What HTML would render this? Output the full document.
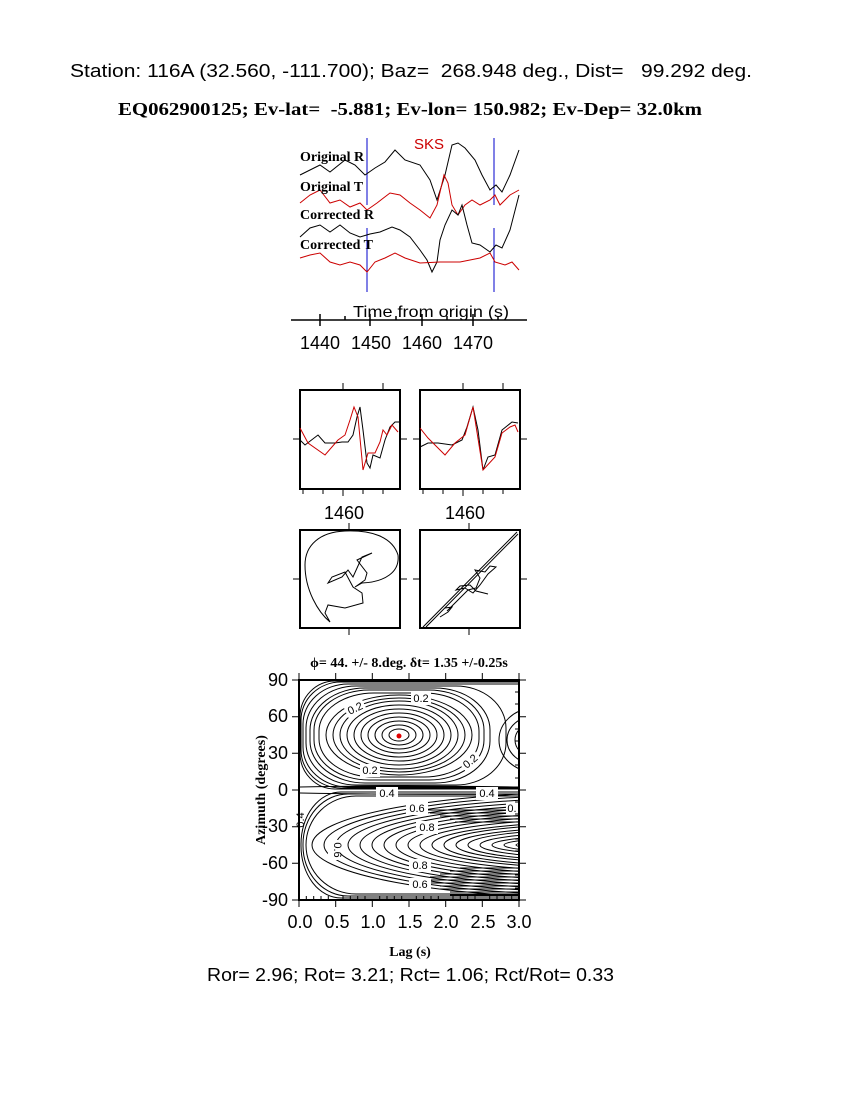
<!DOCTYPE html>
<html><head><meta charset="utf-8"><style>body{margin:0;background:#fff}svg{display:block}text{white-space:pre}</style></head>
<body>
<svg width="850" height="1100" viewBox="0 0 850 1100" xmlns="http://www.w3.org/2000/svg" xml:space="preserve">
<defs>
<clipPath id="cu"><rect x="299" y="680" width="220" height="110"/></clipPath>
<clipPath id="cl"><rect x="299" y="790" width="220" height="110"/></clipPath>
<clipPath id="cb"><rect x="299" y="680" width="220" height="220"/></clipPath>
</defs>
<g font-family="Liberation Sans, sans-serif" fill="#000">
<text x="70" y="77" font-size="18" textLength="682" lengthAdjust="spacingAndGlyphs">Station: 116A (32.560, -111.700); Baz=  268.948 deg., Dist=   99.292 deg.</text>
<text x="118" y="115" font-size="18" font-weight="bold" font-family="Liberation Serif, serif" textLength="584" lengthAdjust="spacingAndGlyphs">EQ062900125; Ev-lat=  -5.881; Ev-lon= 150.982; Ev-Dep= 32.0km</text>
</g>
<g fill="none" stroke-width="1">
<line x1="367" y1="138" x2="367" y2="205" stroke="#0000cc"/>
<line x1="494" y1="138" x2="494" y2="205" stroke="#0000cc"/>
<line x1="367" y1="228" x2="367" y2="292" stroke="#0000cc"/>
<line x1="494" y1="228" x2="494" y2="292" stroke="#0000cc"/>
<polyline stroke="#000" points="300,175 310,170 320,165 330,172 345,160 355,165 365,175 375,168 385,162 395,150 405,160 420,165 430,180 437,200 445,175 452,145 458,143 465,148 475,160 482,175 490,190 496,185 502,192 510,175 519,150"/>
<polyline stroke="#cc0000" points="300,203 310,195 320,190 330,203 340,200 350,207 360,203 367,210 377,203 390,193 400,195 410,203 420,210 430,218 437,205 444,175 448,183 452,205 458,215 465,205 472,200 480,205 490,200 495,195 500,205 510,195 519,190"/>
<polyline stroke="#000" points="300,237 310,228 320,225 330,232 340,225 350,233 360,237 370,234 380,232 392,227 400,230 410,237 420,250 427,260 432,272 437,262 440,240 445,225 452,210 458,215 462,205 467,225 472,243 480,245 490,252 496,245 502,248 510,230 519,195"/>
<polyline stroke="#cc0000" points="300,258 310,255 320,253 330,262 340,265 350,262 360,265 367,272 375,262 385,258 395,253 405,258 420,263 440,262 460,262 480,258 490,253 495,262 505,265 512,262 519,270"/>
</g>
<g font-family="Liberation Serif, serif" font-weight="bold" font-size="14">
<text x="300" y="161">Original R</text>
<text x="300" y="191">Original T</text>
<text x="300" y="219">Corrected R</text>
<text x="300" y="249">Corrected T</text>
</g>
<text x="414" y="149" font-family="Liberation Sans, sans-serif" font-size="15" fill="#cc0000">SKS</text>
<text x="353" y="317" font-family="Liberation Sans, sans-serif" font-size="16" textLength="156" lengthAdjust="spacingAndGlyphs">Time from origin (s)</text>
<g stroke="#000" stroke-width="1.5">
<line x1="291" y1="320" x2="527" y2="320"/>
<line x1="320" y1="314" x2="320" y2="326"/><line x1="370" y1="314" x2="370" y2="326"/><line x1="422" y1="314" x2="422" y2="326"/><line x1="473" y1="314" x2="473" y2="326"/>
<line x1="345" y1="316" x2="345" y2="320"/><line x1="396" y1="316" x2="396" y2="320"/><line x1="447" y1="316" x2="447" y2="320"/><line x1="498" y1="316" x2="498" y2="320"/>
</g>
<g font-family="Liberation Sans, sans-serif" font-size="18" text-anchor="middle">
<text x="320" y="349">1440</text><text x="371" y="349">1450</text><text x="422" y="349">1460</text><text x="473" y="349">1470</text>
<text x="344" y="519">1460</text><text x="465" y="519">1460</text>
</g>
<g fill="none" stroke="#000" stroke-width="2">
<rect x="300" y="390" width="100" height="99"/>
<rect x="420" y="390" width="100" height="99"/>
<rect x="300" y="530" width="100" height="98"/>
<rect x="420" y="530" width="100" height="98"/>
</g>
<g stroke="#000" stroke-width="1">
<line x1="343" y1="383" x2="343" y2="390"/><line x1="383" y1="383" x2="383" y2="390"/>
<line x1="463" y1="383" x2="463" y2="390"/><line x1="503" y1="383" x2="503" y2="390"/>
<line x1="303" y1="489" x2="303" y2="494"/><line x1="323" y1="489" x2="323" y2="494"/><line x1="343" y1="489" x2="343" y2="496"/><line x1="363" y1="489" x2="363" y2="494"/><line x1="383" y1="489" x2="383" y2="494"/>
<line x1="423" y1="489" x2="423" y2="494"/><line x1="443" y1="489" x2="443" y2="494"/><line x1="463" y1="489" x2="463" y2="496"/><line x1="483" y1="489" x2="483" y2="494"/><line x1="503" y1="489" x2="503" y2="494"/>
<line x1="293" y1="439" x2="300" y2="439"/><line x1="400" y1="439" x2="407" y2="439"/>
<line x1="413" y1="439" x2="420" y2="439"/><line x1="520" y1="439" x2="527" y2="439"/>
<line x1="349" y1="523" x2="349" y2="530"/><line x1="469" y1="523" x2="469" y2="530"/>
<line x1="349" y1="628" x2="349" y2="635"/><line x1="469" y1="628" x2="469" y2="635"/>
<line x1="293" y1="579" x2="300" y2="579"/><line x1="400" y1="579" x2="407" y2="579"/>
<line x1="413" y1="579" x2="420" y2="579"/><line x1="520" y1="579" x2="527" y2="579"/>
</g>
<g fill="none" stroke-width="1">
<polyline stroke="#000" points="300,440 305,445 318,435 325,443 335,443 342,442 348,442 353,435 357,417 360,407 363,430 367,463 370,468 373,455 380,458 385,440 390,427 395,422 400,422"/>
<polyline stroke="#cc0000" points="300,428 308,443 325,455 338,440 345,435 350,420 354,407 358,417 363,470 368,453 375,453 380,442 383,430 387,435 392,425 398,432"/>
<polyline stroke="#000" points="420,447 428,443 438,443 452,445 462,440 467,427 473,407 478,430 483,470 488,457 495,455 502,430 512,422 518,423"/>
<polyline stroke="#cc0000" points="420,428 428,438 445,455 455,443 465,435 473,407 483,470 495,457 502,433 510,427 515,425 518,432"/>
<path stroke="#000" d="M330,622 C318,612 305,590 305,565 C305,545 320,532 345,531 C370,530 392,536 398,555 C400,572 385,582 362,583 L355,587 L365,580 L367,573 L357,560 L372,553 L362,557 L353,577 L348,570 L342,577 L328,583 L332,577 L345,572 L353,587 L362,593 L363,603 L345,608 L328,605 L325,613 Z"/>
<path stroke="#000" d="M423,627 L517,532 L425,625 M518,534 L426,627 M440,617 L448,612 L452,607 L445,608 M447,611 L468,590 L476,588 L480,578 L475,570 L485,572 L490,566 L496,567 L488,574 L480,585 L473,593 L465,588 L456,590 L460,586 L470,585 L476,591 L488,594"/>
</g>
<text x="409" y="667" text-anchor="middle" font-family="Liberation Serif, serif" font-weight="bold" font-size="14">ϕ= 44. +/- 8.deg. δt= 1.35 +/-0.25s</text>
<g fill="none" stroke="#000" stroke-width="1">
<g clip-path="url(#cu)">
<ellipse cx="399" cy="735" rx="10" ry="6"/><ellipse cx="399" cy="735" rx="17" ry="10"/><ellipse cx="399" cy="735" rx="24" ry="14"/><ellipse cx="399" cy="735" rx="31" ry="18"/><ellipse cx="399" cy="735" rx="38" ry="22"/><ellipse cx="399" cy="735" rx="45" ry="26"/><ellipse cx="399" cy="735" rx="52" ry="30"/><ellipse cx="399" cy="735" rx="59" ry="34"/><ellipse cx="399" cy="735" rx="66" ry="37"/><ellipse cx="399" cy="735" rx="73" ry="40"/>
<rect x="319" y="693" width="160" height="84" rx="55" ry="38"/><rect x="314" y="690" width="170" height="90" rx="55" ry="40"/><rect x="310" y="688" width="180" height="95" rx="55" ry="42"/><rect x="306" y="686" width="200" height="99" rx="50" ry="42"/><rect x="303" y="684" width="260" height="103" rx="45" ry="40"/><rect x="301" y="682" width="300" height="106" rx="40" ry="38"/><rect x="300" y="681" width="320" height="108" rx="35" ry="36"/>
<ellipse cx="535" cy="740" rx="12" ry="10"/><ellipse cx="535" cy="740" rx="20" ry="17"/><ellipse cx="535" cy="740" rx="28" ry="24"/><ellipse cx="535" cy="740" rx="36" ry="32"/>
</g>
<g clip-path="url(#cl)">
<ellipse cx="600" cy="845" rx="72" ry="3"/><ellipse cx="600" cy="845" rx="84" ry="6"/><ellipse cx="600" cy="845" rx="96" ry="8"/><ellipse cx="600" cy="845" rx="108" ry="10"/><ellipse cx="600" cy="845" rx="120" ry="13"/><ellipse cx="600" cy="845" rx="132" ry="16"/><ellipse cx="600" cy="845" rx="144" ry="18"/><ellipse cx="600" cy="845" rx="156" ry="21"/><ellipse cx="600" cy="845" rx="168" ry="23"/><ellipse cx="600" cy="845" rx="180" ry="26"/><ellipse cx="600" cy="845" rx="192" ry="29"/><ellipse cx="600" cy="845" rx="204" ry="32"/><ellipse cx="600" cy="845" rx="216" ry="35"/><ellipse cx="600" cy="845" rx="228" ry="38"/><ellipse cx="600" cy="845" rx="240" ry="41"/><ellipse cx="600" cy="845" rx="252" ry="44"/><ellipse cx="600" cy="845" rx="264" ry="47"/><ellipse cx="600" cy="845" rx="276" ry="50"/><ellipse cx="600" cy="845" rx="288" ry="53"/>
<rect x="306" y="796" width="400" height="98" rx="50" ry="49"/><rect x="303" y="794" width="400" height="102" rx="45" ry="50"/><rect x="301" y="792" width="400" height="106" rx="40" ry="52"/>
<path d="M420,810 H519 M430,813 H519 M440,816 H519 M450,819 H519 M455,822 H519 M460,868 H519 M450,871 H519 M440,874 H519 M430,877 H519 M420,880 H519 M430,883 H519 M440,886 H519 M440,889 H519 M450,892 H519 M450,895 H519"/>
</g>
<path clip-path="url(#cb)" d="M300,787 Q400,785 519,787 M300,793 Q400,795 519,794"/>
</g>
<circle cx="399" cy="736" r="2.5" fill="#e00000"/>
<g font-family="Liberation Sans, sans-serif" font-size="11" text-anchor="middle">
<rect x="345" y="702" width="20" height="13" fill="#fff" transform="rotate(-25 355 708)"/><text x="355" y="712" transform="rotate(-25 355 708)">0.2</text>
<rect x="411" y="692" width="20" height="13" fill="#fff"/><text x="421" y="702">0.2</text>
<rect x="360" y="764" width="20" height="13" fill="#fff"/><text x="370" y="774">0.2</text>
<rect x="460" y="755" width="20" height="13" fill="#fff" transform="rotate(-40 470 761)"/><text x="470" y="765" transform="rotate(-40 470 761)">0.2</text>
<rect x="376" y="787" width="22" height="13" fill="#fff"/><text x="387" y="797">0.4</text>
<rect x="476" y="787" width="22" height="13" fill="#fff"/><text x="487" y="797">0.4</text>
<rect x="406" y="802" width="22" height="13" fill="#fff"/><text x="417" y="812">0.6</text>
<rect x="506" y="802" width="13" height="13" fill="#fff"/><text x="512" y="812">0.</text>
<rect x="416" y="821" width="22" height="13" fill="#fff"/><text x="427" y="831">0.8</text>
<rect x="409" y="859" width="22" height="13" fill="#fff"/><text x="420" y="869">0.8</text>
<rect x="409" y="878" width="22" height="13" fill="#fff"/><text x="420" y="888">0.6</text>
<rect x="328" y="840" width="12" height="20" fill="#fff"/><text x="0" y="0" transform="translate(334,850) rotate(90)">0.6</text>
<text x="0" y="0" transform="translate(304,820) rotate(-90)">0.4</text>
</g>
<g stroke="#000" fill="none">
<rect x="299" y="680" width="220" height="220" stroke-width="2"/>
<path stroke-width="1" d="M292,680 H299 M292,716.7 H299 M292,753.3 H299 M292,790 H299 M292,826.7 H299 M292,863.3 H299 M292,900 H299 M519,680 H526 M519,716.7 H526 M519,753.3 H526 M519,790 H526 M519,826.7 H526 M519,863.3 H526 M519,900 H526 M299,900 V907 M335.7,900 V907 M372.3,900 V907 M409,900 V907 M445.7,900 V907 M482.3,900 V907 M519,900 V907 M299,680 V673 M335.7,680 V673 M372.3,680 V673 M409,680 V673 M445.7,680 V673 M482.3,680 V673 M519,680 V673"/>
<path stroke-width="1" d="M306.3,900 v-4 M313.7,900 v-4 M321,900 v-4 M328.3,900 v-4 M343,900 v-4 M350.3,900 v-4 M357.7,900 v-4 M365,900 v-4 M379.7,900 v-4 M387,900 v-4 M394.3,900 v-4 M401.7,900 v-4 M416.3,900 v-4 M423.7,900 v-4 M431,900 v-4 M438.3,900 v-4 M453,900 v-4 M460.3,900 v-4 M467.7,900 v-4 M475,900 v-4 M489.7,900 v-4 M497,900 v-4 M504.3,900 v-4 M511.7,900 v-4 M519,692 h-4 M519,704 h-4 M519,729 h-4 M519,741 h-4 M519,765 h-4 M519,778 h-4 M519,802 h-4 M519,814 h-4 M519,839 h-4 M519,851 h-4 M519,875 h-4 M519,888 h-4"/>
</g>
<g font-family="Liberation Sans, sans-serif" font-size="18" text-anchor="end">
<text x="288" y="686">90</text><text x="288" y="722">60</text><text x="288" y="759">30</text><text x="288" y="796">0</text><text x="288" y="832">-30</text><text x="288" y="869">-60</text><text x="288" y="906">-90</text>
</g>
<g font-family="Liberation Sans, sans-serif" font-size="18" text-anchor="middle">
<text x="300" y="928">0.0</text><text x="337" y="928">0.5</text><text x="373" y="928">1.0</text><text x="410" y="928">1.5</text><text x="446" y="928">2.0</text><text x="483" y="928">2.5</text><text x="519" y="928">3.0</text>
</g>
<text x="410" y="956" text-anchor="middle" font-family="Liberation Serif, serif" font-weight="bold" font-size="14">Lag (s)</text>
<text transform="translate(265,790) rotate(-90)" text-anchor="middle" font-family="Liberation Serif, serif" font-weight="bold" font-size="14">Azimuth (degrees)</text>
<text x="207" y="981" font-family="Liberation Sans, sans-serif" font-size="18" textLength="407" lengthAdjust="spacingAndGlyphs">Ror= 2.96; Rot= 3.21; Rct= 1.06; Rct/Rot= 0.33</text>
</svg>
</body></html>
